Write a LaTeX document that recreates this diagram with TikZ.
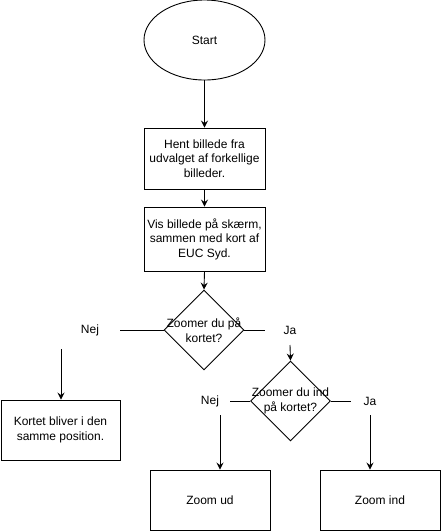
\documentclass[tikz,border=0pt]{standalone}
\usepackage{fontspec}
\setmainfont{Liberation Sans}
\usetikzlibrary{shapes.geometric,arrows.meta}
\begin{document}
\begin{tikzpicture}[x=1pt,y=-1pt,
  every node/.style={font=\fontsize{12}{14.5}\selectfont, align=center, inner sep=0pt},
  box/.style={draw, line width=0.9pt, minimum width=121pt, minimum height=61pt},
  dia/.style={draw, line width=0.9pt, diamond, minimum width=80pt, minimum height=80pt, inner sep=0pt, aspect=1},
  arr/.style={line width=0.9pt, -{Stealth[length=7pt,width=7pt,inset=2.5pt]}},
  ln/.style={line width=0.9pt}]
\useasboundingbox (0,0) rectangle (441,531);
\node[draw, line width=0.9pt, ellipse, minimum width=121pt, minimum height=80pt] (start) at (204.5,40) {Start};
\node[box] (b1) at (204.5,158.5) {Hent billede fra\\udvalget af forkellige\\billeder.};
\node[box, minimum height=64pt] (b2) at (204.5,239) {Vis billede på skærm,\\sammen med kort af\\EUC Syd.};
\node[dia] (d1) at (204,330) {};
\node at (204,330) {Zoomer du på\\kortet?};
\node (nej1) at (90,330) {Nej};
\node (ja1) at (290,330) {Ja};
\coordinate (n1end) at (120,330);
\coordinate (j1end) at (265,330);
\node[dia] (d2) at (290.5,401) {};
\node at (290.5,401) {Zoomer du ind\\på kortet?};
\node (nej2) at (210,401) {Nej};
\node (ja2) at (370,401) {Ja};
\coordinate (n2end) at (230,401);
\coordinate (j2end) at (351,401);
\coordinate (n1s) at (61,349);
\coordinate (j1s) at (290,345);
\coordinate (n2s) at (220,415);
\coordinate (j2s) at (370,415);
\node[box, minimum width=119pt, minimum height=60pt] (b3) at (60.5,430) {Kortet bliver i den\\samme position.};
\node[box, minimum width=120pt, minimum height=60pt] (zu) at (210,500) {Zoom ud};
\node[box, minimum width=120pt, minimum height=60pt] (zi) at (380,500) {Zoom ind};
\draw[arr] (start.south) -- (b1.north);
\draw[arr] (b1.south) -- (b2.north);
\draw[arr] (b2.south) -- (d1.north);
\draw[ln] (d1.west) -- (n1end);
\draw[ln] (d1.east) -- (j1end);
\draw[arr] (j1s) -- (d2.north);
\draw[arr] (n1s) -- (n1s |- b3.north);
\draw[ln] (d2.west) -- (n2end);
\draw[ln] (d2.east) -- (j2end);
\draw[arr] (n2s) -- (n2s |- zu.north);
\draw[arr] (j2s) -- (j2s |- zi.north);
\end{tikzpicture}
\end{document}
